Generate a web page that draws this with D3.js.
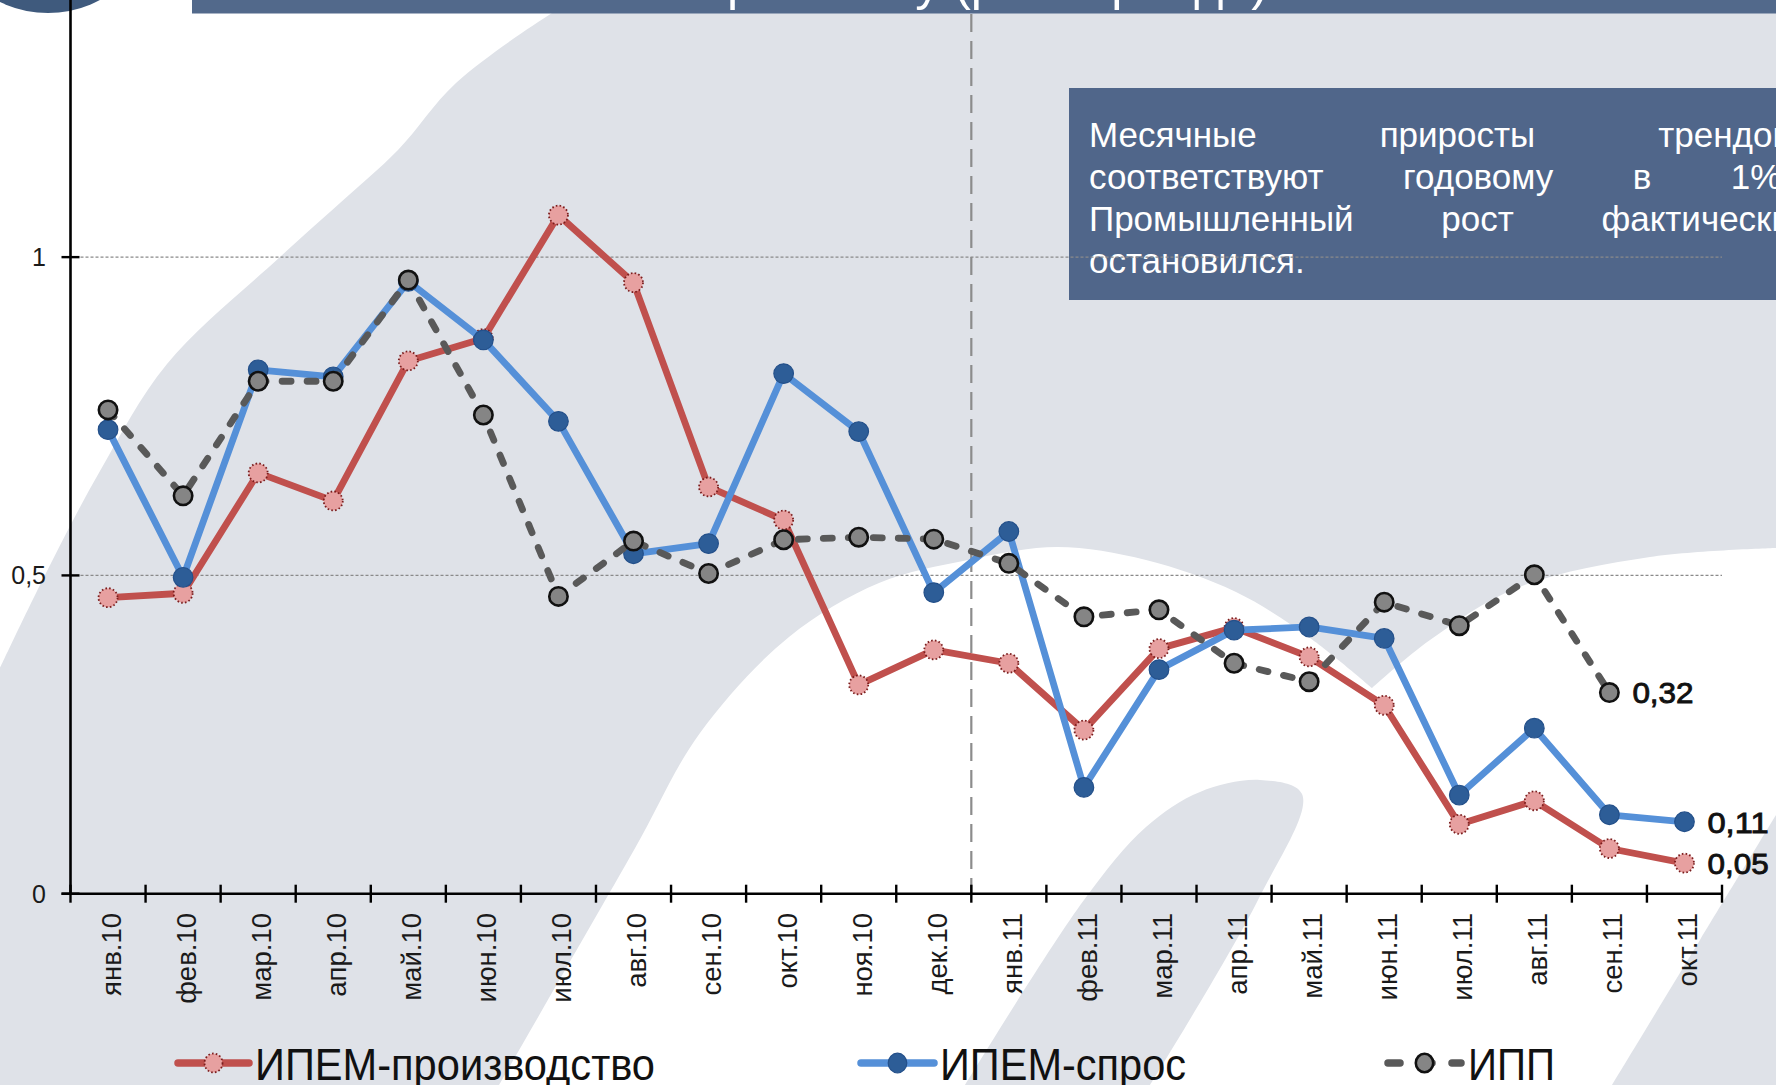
<!DOCTYPE html>
<html><head><meta charset="utf-8">
<script src="https://cdn.jsdelivr.net/npm/d3@7"></script>
<style>
body{margin:0;background:#fff;}
svg{display:block;font-family:"Liberation Sans",Arial,sans-serif;}
</style>
</head><body>
<svg id="c" width="1776" height="1085"></svg>
<script>
// ---------- DATA ----------
const categories = ["янв.10","фев.10","мар.10","апр.10","май.10","июн.10","июл.10","авг.10","сен.10","окт.10","ноя.10","дек.10",
                    "янв.11","фев.11","мар.11","апр.11","май.11","июн.11","июл.11","авг.11","сен.11","окт.11"];
const ipemProd   = [0.465,0.472,0.661,0.617,0.837,0.872,1.066,0.960,0.639,0.587,0.328,0.383,0.362,0.257,0.385,0.418,0.372,0.296,0.109,0.146,0.071,0.048];
const ipemDemand = [0.729,0.497,0.823,0.812,0.962,0.870,0.742,0.534,0.550,0.817,0.726,0.473,0.569,0.167,0.352,0.414,0.419,0.401,0.155,0.260,0.124,0.113];
const ipp        = [0.760,0.625,0.805,0.805,0.964,0.752,0.467,0.554,0.503,0.556,0.560,0.557,0.519,0.435,0.446,0.362,0.333,0.458,0.421,0.501,0.316,null];
const seriesNames = ["ИПЕМ-производство","ИПЕМ-спрос","ИПП"];
const yTicks = [0, 0.5, 1];
const yTickLabels = ["0","0,5","1"];
const splitCategory = "янв.11";
const noteLines = [
  ["Месячные","приросты","трендов"],
  ["соответствуют","годовому","в","1%."],
  ["Промышленный","рост","фактически"],
  ["остановился."]
];
const titleText = "Темпы ИПЕМ и ИПП к прошлому (рост тренда)";

// ---------- SETUP ----------
const svg = d3.select("#c");
const W = 1776, H = 1085;
const x = d3.scaleBand().domain(categories).range([70.5, 1722]);
const y = d3.scaleLinear().domain([0, 1.4]).range([893.7, 2.5]);
const cx = c => x(c) + x.bandwidth()/2;

// ---------- BACKGROUND WATERMARK ----------
const bgGray = "#dfe2e8";
svg.append("rect").attr("width", W).attr("height", H).attr("fill", bgGray);
const curve = d3.line().curve(d3.curveCatmullRom.alpha(0.5));
const tlEdge = [[575,0],[552,13],[456,83],[398,150],[340,203],[280,257],[167,364],[100,471],[43,579],[0,668]];
svg.append("path").attr("fill","#ffffff").attr("d","M0,0L" + curve(tlEdge).slice(1) + "Z");
const archEdgeA = [[499,1085],[634,850],[700,733],[789,637],[879,583],[968,560],[1057,547],[1146,560],[1236,592],[1310,638],[1372,688]];
const archEdgeB = [[1372,688],[1430,640],[1517,588],[1650,557],[1776,548]];
svg.append("path").attr("fill","#ffffff")
  .attr("d", curve(archEdgeA) + "L" + curve(archEdgeB).slice(1) + "L1776,1085Z");
const innerBand = [[965,1085],[1084,900],[1146,827],[1200,792],[1260,780],[1302,794],[1258,900],[1150,1085]];
svg.append("path").attr("fill", bgGray).attr("d", curve(innerBand) + "Z");
const rightBand = [[1612,1085],[1700,940],[1776,815]];
svg.append("path").attr("fill", bgGray).attr("d", curve(rightBand) + "L1776,1085Z");

// ---------- HEADER ----------
const headerColor = "#52698b";
svg.append("circle").attr("cx",48).attr("cy",-97).attr("r",110).attr("fill","#3f5a7d");
svg.append("defs").append("clipPath").attr("id","hclip")
  .append("rect").attr("x",192).attr("y",0).attr("width",W-192).attr("height",13.5);
svg.append("rect").attr("x",192).attr("y",0).attr("width",W-192).attr("height",13.5).attr("fill",headerColor);
svg.append("text").attr("clip-path","url(#hclip)").attr("x",1268).attr("y",0)
  .attr("text-anchor","end").attr("font-size",50).attr("fill","#fff").text(titleText);

// ---------- NOTE BOX ----------
const box = {x:1069, y:88, w:760, h:212};
svg.append("rect").attr("x",box.x).attr("y",box.y).attr("width",box.w).attr("height",box.h).attr("fill","#50668a");
const noteG = svg.append("g").attr("font-size",35).attr("fill","#fff");
const noteX0 = 1089, noteW = 702;
noteLines.forEach((words, i) => {
  const by = 147 + i*42;
  const nodes = words.map(w => noteG.append("text").attr("y", by).text(w));
  const widths = nodes.map(n => n.node().getComputedTextLength());
  const total = d3.sum(widths);
  const gap = (i === noteLines.length-1 || words.length < 2) ? 10 : (noteW - total)/(words.length-1);
  let xx = noteX0;
  nodes.forEach((n,k) => { n.attr("x", xx); xx += widths[k] + gap; });
});

// ---------- GRID ----------
const plotRight = x.range()[1];
svg.append("g").selectAll("line").data(yTicks.filter(v => v > 0)).join("line")
  .attr("x1", x.range()[0]).attr("x2", plotRight)
  .attr("y1", d => y(d)).attr("y2", d => y(d))
  .attr("stroke","#8a8a8a").attr("stroke-width",1.2).attr("stroke-dasharray","3,2");

// split dashed vertical line
svg.append("line").attr("x1", x(splitCategory)).attr("x2", x(splitCategory))
  .attr("y1", 14).attr("y2", y(0))
  .attr("stroke","#8c8c8c").attr("stroke-width",2.2).attr("stroke-dasharray","18,9");

// ---------- AXES ----------
const axisG = svg.append("g").attr("stroke","#000");
axisG.append("line").attr("x1",x.range()[0]).attr("x2",x.range()[0]).attr("y1",0).attr("y2",y(0)).attr("stroke-width",2.6);
axisG.append("line").attr("x1",x.range()[0]-9).attr("x2",plotRight).attr("y1",y(0)).attr("y2",y(0)).attr("stroke-width",2.6);
const bounds = categories.map(c => x(c)).concat([plotRight]);
axisG.selectAll(".xt").data(bounds).join("line").attr("class","xt")
  .attr("x1", d => d).attr("x2", d => d).attr("y1", y(0)-9).attr("y2", y(0)+9).attr("stroke-width",2.4);
axisG.selectAll(".yt").data(yTicks).join("line").attr("class","yt")
  .attr("x1", x.range()[0]-9).attr("x2", x.range()[0]+9).attr("y1", d => y(d)).attr("y2", d => y(d)).attr("stroke-width",2.4);

svg.append("g").selectAll("text").data(yTicks).join("text")
  .attr("x", 46).attr("y", d => y(d)).attr("dy","0.36em").attr("text-anchor","end")
  .attr("font-size",25).attr("fill","#1a1a1a").text((d,i) => yTickLabels[i]);

svg.append("g").selectAll("text").data(categories).join("text")
  .attr("transform", d => `translate(${cx(d)+3},913) rotate(-90)`)
  .attr("text-anchor","end").attr("dy","0.36em")
  .attr("font-size",27.5).attr("fill","#1a1a1a").text(d => d);

// ---------- SERIES ----------
const styles = [
  {data: ipemProd, color:"#c0504d", dash:null, mFill:"#e7a0a0", mStroke:"#7b1d1d", mDash:"1.6,2.2", mW:1.8, r:9.5},
  {data: ipemDemand, color:"#5590d8", dash:null, mFill:"#2d5d97", mStroke:"#24508a", mDash:null, mW:1.2, r:9.8},
  {data: ipp, color:"#595959", dash:"9,16", mFill:"#858585", mStroke:"#111", mDash:null, mW:2.6, r:9.2}
];
const lineGen = d3.line().defined(d => d.v != null).x(d => cx(d.c)).y(d => y(d.v));
styles.forEach(s => {
  const pts = categories.map((c,i) => ({c, v: s.data[i]}));
  const g = svg.append("g");
  g.append("path").attr("d", lineGen(pts)).attr("fill","none")
    .attr("stroke", s.color).attr("stroke-width", 6.8)
    .attr("stroke-linejoin","round").attr("stroke-linecap", s.dash ? "round" : "butt")
    .attr("stroke-dasharray", s.dash);
  g.selectAll("circle").data(pts.filter(p => p.v != null)).join("circle")
    .attr("cx", d => cx(d.c)).attr("cy", d => y(d.v)).attr("r", s.r)
    .attr("fill", s.mFill).attr("stroke", s.mStroke).attr("stroke-width", s.mW)
    .attr("stroke-dasharray", s.mDash);
});

// ---------- DATA LABELS (last values) ----------
const fmt = v => d3.format(".2f")(v).replace(".", ",");
styles.forEach(s => {
  let li = s.data.length - 1;
  while (s.data[li] == null) li--;
  svg.append("text").attr("x", cx(categories[li]) + 23).attr("y", y(s.data[li]))
    .attr("dy","0.36em").attr("font-size",30).attr("fill","#111").attr("stroke","#111").attr("stroke-width",0.9)
    .attr("textLength", 54*1.1327).attr("lengthAdjust","spacingAndGlyphs")
    .text(fmt(s.data[li]));
});

// ---------- LEGEND ----------
const legendItems = [
  {x0:178, x1:249, tx:255, tw:400},
  {x0:861, x1:934, tx:940, tw:246},
  {x0:1388, x1:1461, tx:1468, tw:87}
];
const ly = 1063;
legendItems.forEach((it, i) => {
  const s = styles[i];
  const g = svg.append("g");
  g.append("line").attr("x1", it.x0).attr("x2", it.x1).attr("y1", ly).attr("y2", ly)
    .attr("stroke", s.color).attr("stroke-width", 7.5)
    .attr("stroke-linecap", "round").attr("stroke-dasharray", s.dash ? "12,20" : null);
  g.append("ellipse").attr("cx", (it.x0+it.x1)/2).attr("cy", ly).attr("rx", s.r-0.5).attr("ry", s.r)
    .attr("fill", s.mFill).attr("stroke", s.mStroke).attr("stroke-width", s.mW).attr("stroke-dasharray", s.mDash);
  g.append("text").attr("x", it.tx).attr("y", 1080).attr("font-size",45).attr("fill","#111")
    .attr("textLength", it.tw).attr("lengthAdjust","spacingAndGlyphs").text(seriesNames[i]);
});
</script>
</body></html>
